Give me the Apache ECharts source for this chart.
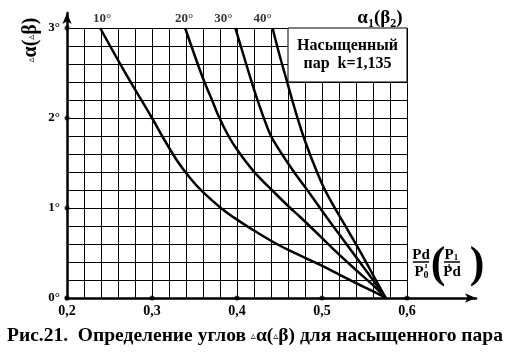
<!DOCTYPE html>
<html>
<head>
<meta charset="utf-8">
<script src="https://cdn.jsdelivr.net/npm/echarts@6/dist/echarts.min.js"></script>
<style>
  html, body { margin: 0; padding: 0; background: #fff; }
  #chart { width: 509px; height: 353px; }
</style>
</head>
<body>
<div id="chart"></div>
<script>
  // данные: [Pd/P'0, Δα в градусах]
  const xTicks = [0.2, 0.3, 0.4, 0.5, 0.6];
  const yTicks = [0, 1, 2, 3];
  const curveNames = ["10°", "20°", "30°", "40°"];

  const curve10 = [
    [0.239, 3.0], [0.262, 2.61], [0.2805, 2.31], [0.300, 2.0], [0.315, 1.75],
    [0.330, 1.52], [0.345, 1.33], [0.3585, 1.19], [0.381, 1.0], [0.397, 0.89],
    [0.4165, 0.77], [0.442, 0.625], [0.4635, 0.52], [0.4986, 0.365],
    [0.5193, 0.265], [0.5389, 0.17], [0.5597, 0.076], [0.575, 0]
  ];
  const curve20 = [
    [0.339, 3.0], [0.3596, 2.45], [0.3706, 2.2], [0.3784, 2.02], [0.390, 1.80],
    [0.400, 1.65], [0.4194, 1.41], [0.441, 1.20], [0.4626, 1.0], [0.4743, 0.90],
    [0.4986, 0.68], [0.5193, 0.49], [0.5389, 0.32], [0.5597, 0.145], [0.575, 0]
  ];
  const curve30 = [
    [0.398, 3.0], [0.406, 2.75], [0.414, 2.5], [0.422, 2.26], [0.430, 2.04],
    [0.439, 1.82], [0.448, 1.67], [0.4577, 1.53], [0.470, 1.36], [0.4822, 1.206],
    [0.500, 0.97], [0.520, 0.71], [0.540, 0.455], [0.560, 0.20], [0.575, 0]
  ];
  const curve40 = [
    [0.4418, 3.0], [0.450, 2.70], [0.4587, 2.41], [0.468, 2.10], [0.478, 1.80],
    [0.489, 1.52], [0.500, 1.27], [0.5095, 1.094], [0.530, 0.76], [0.550, 0.43],
    [0.565, 0.17], [0.575, 0]
  ];
  const curves = [curve10, curve20, curve30, curve40];

  const FONT = "Liberation Serif";
  const chart = echarts.init(document.getElementById("chart"));

  const boldText = (size) => ({ fontFamily: FONT, fontWeight: "bold", fontSize: size, fill: "#000" });

  const curveSeries = curves.map((c, i) => ({
    name: curveNames[i],
    type: "line",
    xAxisIndex: 0,
    yAxisIndex: 0,
    data: c,
    symbol: "none",
    smooth: 0.4,
    lineStyle: { color: "#000", width: 2.5 },
    z: 3
  }));

  // метки углов над верхними концами кривых
  const labelOffsets = [[2, 2], [-1, 2], [-12, 2], [-10, 2]];
  const curveLabels = {
    type: "scatter",
    xAxisIndex: 0,
    yAxisIndex: 0,
    symbolSize: 1,
    itemStyle: { color: "transparent" },
    clip: false,
    silent: true,
    data: curves.map((c, i) => ({
      value: c[0],
      label: {
        show: true,
        position: "top",
        distance: 4,
        offset: labelOffsets[i],
        formatter: curveNames[i],
        color: "#000",
        fontFamily: FONT,
        fontWeight: "bold",
        fontSize: 13
      }
    }))
  };

  const tickDots = {
    type: "scatter",
    xAxisIndex: 0,
    yAxisIndex: 0,
    symbol: "circle",
    symbolSize: 5,
    clip: false,
    silent: true,
    itemStyle: { color: "#000" },
    data: xTicks.map(v => [v, 0]).concat(yTicks.map(v => [0.2, v])),
    z: 6
  };

  // рамка «Насыщенный пар»
  const boxSeries = {
    type: "line",
    xAxisIndex: 0,
    yAxisIndex: 0,
    data: [],
    markArea: {
      silent: true,
      itemStyle: { color: "#fff", borderColor: "#000", borderWidth: 1 },
      label: {
        show: true,
        position: "inside",
        formatter: "Насыщенный\nпар  k=1,135",
        color: "#000",
        fontFamily: FONT,
        fontWeight: "bold",
        fontSize: 16,
        lineHeight: 18
      },
      data: [[{ coord: [0.46, 3] }, { coord: [0.6, 2.4] }]]
    },
    z: 2
  };

  const option = {
    animation: false,
    backgroundColor: "#fff",
    grid: [
      { left: 67, right: 102, top: 28, bottom: 55 },
      { left: 67, right: 33, top: 13, bottom: 55 }
    ],
    xAxis: [
      {
        type: "value",
        gridIndex: 0,
        min: 0.2,
        max: 0.6,
        interval: 0.1,
        axisLine: { show: false },
        axisTick: { show: false },
        axisLabel: {
          margin: 6,
          color: "#000",
          fontFamily: FONT,
          fontWeight: "bold",
          fontSize: 14,
          formatter: v => v.toFixed(1).replace(".", ",")
        },
        splitLine: { show: true, lineStyle: { color: "#000", width: 1 } },
        minorTick: { show: false, splitNumber: 5 },
        minorSplitLine: { show: true, lineStyle: { color: "#000", width: 1 } }
      },
      {
        type: "value",
        gridIndex: 1,
        min: 0.2,
        max: 0.2 + 409 / 850,
        axisLine: {
          show: true,
          onZero: false,
          symbol: ["none", "arrow"],
          symbolSize: [7, 11],
          lineStyle: { color: "#000", width: 2.5 }
        },
        axisTick: { show: false },
        axisLabel: { show: false },
        splitLine: { show: false }
      }
    ],
    yAxis: [
      {
        type: "value",
        gridIndex: 0,
        min: 0,
        max: 3,
        interval: 1,
        axisLine: { show: false },
        axisTick: { show: false },
        axisLabel: {
          margin: 7,
          color: "#000",
          fontFamily: FONT,
          fontWeight: "bold",
          fontSize: 13,
          formatter: v => v + "°"
        },
        splitLine: { show: true, lineStyle: { color: "#000", width: 1 } },
        minorTick: { show: false, splitNumber: 5 },
        minorSplitLine: { show: true, lineStyle: { color: "#000", width: 1 } }
      },
      {
        type: "value",
        gridIndex: 1,
        min: 0,
        max: 285 / 90,
        axisLine: {
          show: true,
          onZero: false,
          symbol: ["none", "arrow"],
          symbolSize: [7, 11],
          lineStyle: { color: "#000", width: 2.5 }
        },
        axisTick: { show: false },
        axisLabel: { show: false },
        splitLine: { show: false }
      }
    ],
    graphic: [
      // подпись оси Y (повёрнута)
      {
        type: "text",
        x: 31,
        y: 40,
        rotation: Math.PI / 2,
        style: Object.assign(boldText(20), {
          text: "{t|▵}α({t|▵}β)",
          align: "center",
          verticalAlign: "middle",
          rich: { t: { fontFamily: "DejaVu Sans", fontSize: 10, fontWeight: "normal" } }
        })
      },
      // α1(β2)
      {
        type: "text",
        x: 380,
        y: 18,
        style: Object.assign(boldText(19), {
          text: "α{s|1}(β{s|2})",
          align: "center",
          verticalAlign: "middle",
          rich: { s: { fontFamily: FONT, fontWeight: "bold", fontSize: 12, padding: [12, 0, 0, 0] } }
        })
      },
      // подпись оси X: Pd/P'0 (P1/P'd)
      { type: "text", x: 421, y: 255, style: Object.assign(boldText(15), { text: "Pd", align: "center", verticalAlign: "middle" }) },
      { type: "line", shape: { x1: 413, y1: 262, x2: 429, y2: 262 }, style: { stroke: "#000", lineWidth: 1.5 } },
      { type: "text", x: 419, y: 272, style: Object.assign(boldText(15), { text: "P", align: "center", verticalAlign: "middle" }) },
      { type: "text", x: 426, y: 266, style: Object.assign(boldText(8), { text: "ı", align: "center", verticalAlign: "middle" }) },
      { type: "text", x: 426, y: 275, style: Object.assign(boldText(10), { text: "0", align: "center", verticalAlign: "middle" }) },
      { type: "text", x: 438, y: 266, style: Object.assign(boldText(44), { text: "(", align: "center", verticalAlign: "middle" }) },
      { type: "text", x: 449, y: 255, style: Object.assign(boldText(15), { text: "P", align: "center", verticalAlign: "middle" }) },
      { type: "text", x: 456, y: 258, style: Object.assign(boldText(9), { text: "1", align: "center", verticalAlign: "middle" }) },
      { type: "line", shape: { x1: 444, y1: 262, x2: 460, y2: 262 }, style: { stroke: "#000", lineWidth: 1.5 } },
      { type: "text", x: 452, y: 272, style: Object.assign(boldText(15), { text: "Pd", align: "center", verticalAlign: "middle" }) },
      { type: "text", x: 449, y: 266, style: Object.assign(boldText(8), { text: "ı", align: "center", verticalAlign: "middle" }) },
      { type: "text", x: 477, y: 266, style: Object.assign(boldText(44), { text: ")", align: "center", verticalAlign: "middle" }) },
      // подпись рисунка
      {
        type: "text",
        x: 255,
        y: 336,
        style: Object.assign(boldText(19.5), {
          text: "Рис.21.  Определение углов {t|▵}α({t|▵}β) для насыщенного пара",
          align: "center",
          verticalAlign: "middle",
          rich: { t: { fontFamily: "DejaVu Sans", fontSize: 10, fontWeight: "normal" } }
        })
      }
    ],
    series: [boxSeries].concat(curveSeries, [curveLabels, tickDots])
  };

  chart.setOption(option);
</script>
</body>
</html>
